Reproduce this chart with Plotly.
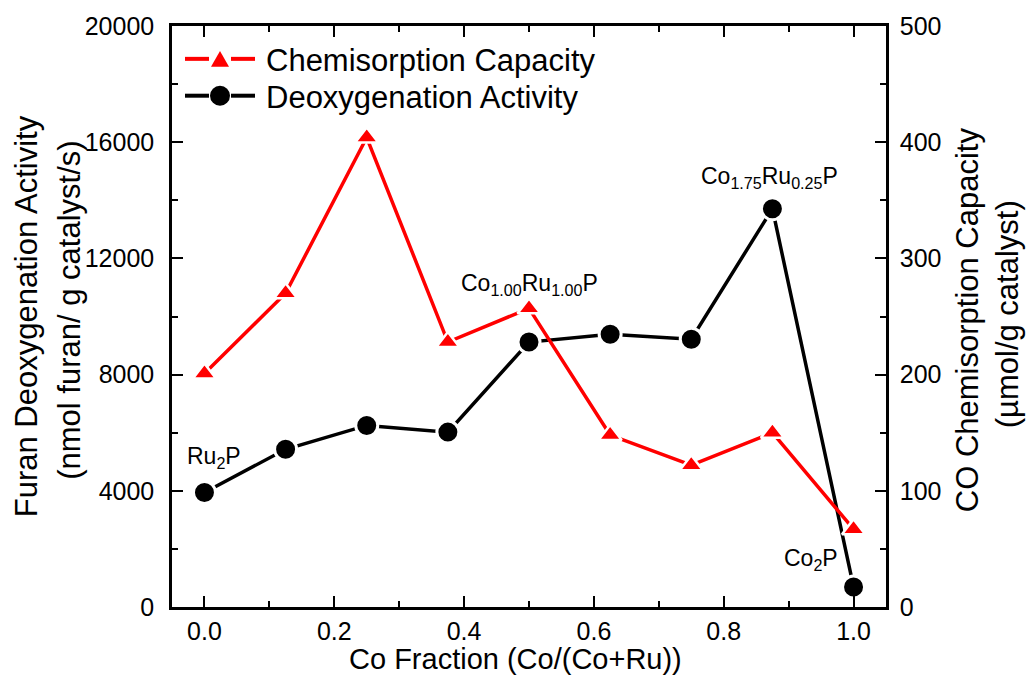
import plotly.graph_objects as go

# Measured data: Co fraction across the Ru2P -> Co2P series
co_fraction = [0.0, 0.125, 0.25, 0.375, 0.5, 0.625, 0.75, 0.875, 1.0]
deoxygenation_activity = [3940, 5430, 6250, 6020, 9120, 9390, 9220, 13710, 690]   # nmol furan / g cat / s
chemisorption_capacity = [201, 270, 404, 228, 257, 148, 122, 150, 67]             # umol CO / g cat

x_tick_values = [0.0, 0.2, 0.4, 0.6, 0.8, 1.0]
left_tick_values = [0, 4000, 8000, 12000, 16000, 20000]
right_tick_values = [0, 100, 200, 300, 400, 500]

phase_labels = ["Ru<sub>2</sub>P", "Co<sub>1.00</sub>Ru<sub>1.00</sub>P",
                "Co<sub>1.75</sub>Ru<sub>0.25</sub>P", "Co<sub>2</sub>P"]

# ---- layout geometry (pixels) ----
W, H = 1028, 678
PL, PR, PT, PB = 172, 886, 24, 607.5          # plot-area edges
FONT = "Arial, 'Liberation Sans', sans-serif"
RED, BLACK = "#ff0000", "#000000"


def px_x(px):
    return (px - PL) / (PR - PL)


def px_y(py):
    return (PB - py) / (PB - PT)


fig = go.Figure()

fig.add_trace(go.Scatter(
    x=co_fraction, y=deoxygenation_activity, mode="lines+markers",
    name="Deoxygenation Activity", yaxis="y", showlegend=False,
    line=dict(color=BLACK, width=3.5),
    marker=dict(symbol="circle", size=22, color=BLACK,
                line=dict(color="white", width=3)),
))
fig.add_trace(go.Scatter(
    x=co_fraction, y=chemisorption_capacity, mode="lines+markers",
    name="Chemisorption Capacity", yaxis="y2", showlegend=False,
    line=dict(color=RED, width=3.5),
    marker=dict(symbol="triangle-up", size=20, color=RED,
                line=dict(color="white", width=2.5)),
))

axis_common = dict(
    showline=True, linecolor="black", linewidth=2.5,
    ticks="inside", ticklen=11, tickwidth=2, tickcolor="black",
    showgrid=False, zeroline=False,
    tickfont=dict(family=FONT, size=25, color="black"),
)

fig.update_layout(
    width=W, height=H,
    margin=dict(l=PL, r=W - PR, t=PT, b=H - PB),
    paper_bgcolor="white", plot_bgcolor="white",
    font=dict(family=FONT, color="black"),
    xaxis=dict(
        range=[-0.05, 1.05], tickvals=x_tick_values, tickformat=".1f",
        mirror="ticks", ticklabelstandoff=0,
        minor=dict(dtick=0.1, tick0=0, ticks="inside", ticklen=6,
                   tickwidth=2, tickcolor="black"),
        **axis_common,
    ),
    yaxis=dict(
        range=[0, 20000], tickvals=left_tick_values, tickformat="d",
        ticklabelstandoff=10,
        minor=dict(dtick=2000, tick0=0, ticks="inside", ticklen=6,
                   tickwidth=2, tickcolor="black"),
        **axis_common,
    ),
    yaxis2=dict(
        range=[0, 500], tickvals=right_tick_values, tickformat="d",
        overlaying="y", side="right", ticklabelstandoff=6,
        minor=dict(dtick=50, tick0=0, ticks="inside", ticklen=6,
                   tickwidth=2, tickcolor="black"),
        **axis_common,
    ),
    showlegend=False,
)

# ---- axis titles ----
titles = [
    ("Furan Deoxygenation Activity", 26, 315.5),
    ("(nmol furan/ g catalyst/s)", 70, 310),
    ("CO Chemisorption Capacity", 967, 319.5),
    ("(\u00b5mol/g catalyst)", 1007, 313.5),
]
for text, tx, ty in titles:
    fig.add_annotation(
        text=text, xref="paper", yref="paper", x=px_x(tx), y=px_y(ty),
        xanchor="center", yanchor="middle", textangle=-90, showarrow=False,
        font=dict(family=FONT, size=31, color="black"),
    )
fig.add_annotation(
    text="Co Fraction (Co/(Co+Ru))", xref="paper", yref="paper",
    x=px_x(515), y=px_y(678), xanchor="center", yanchor="bottom",
    showarrow=False,
    font=dict(family=FONT, size=29, color="black"),
)

# ---- phase labels next to their points ----
label_pos = [(0.014, 5150), (0.5015, 11100), (0.871, 14780), (0.935, 1650)]
for text, (lx, ly) in zip(phase_labels, label_pos):
    fig.add_annotation(
        text=text, xref="x", yref="y", x=lx, y=ly,
        xanchor="center", yanchor="middle", showarrow=False,
        font=dict(family=FONT, size=23, color="black"),
    )

# ---- legend (line - symbol - line, then label) ----
legend_rows = [
    ("Chemisorption Capacity", RED, "triangle", 57),
    ("Deoxygenation Activity", BLACK, "circle", 94),
]
for text, color, sym, ry in legend_rows:
    for x0, x1 in [(185, 209), (231, 255)]:
        fig.add_shape(type="line", xref="paper", yref="paper",
                      x0=px_x(x0), x1=px_x(x1), y0=px_y(ry), y1=px_y(ry),
                      line=dict(color=color, width=4))
    cx = 220
    if sym == "triangle":
        pts = [(cx - 9, ry + 8), (cx + 9, ry + 8), (cx, ry - 8)]
        path = "M " + " L ".join(f"{px_x(a):.5f},{px_y(b):.5f}" for a, b in pts) + " Z"
        fig.add_shape(type="path", xref="paper", yref="paper", path=path,
                      fillcolor=color, line=dict(width=0))
    else:
        fig.add_shape(type="circle", xref="paper", yref="paper",
                      x0=px_x(cx - 10), x1=px_x(cx + 10),
                      y0=px_y(ry + 10), y1=px_y(ry - 10),
                      fillcolor=color, line=dict(width=0))
    fig.add_annotation(
        text=text, xref="paper", yref="paper", x=px_x(264), y=px_y(ry + 2),
        xanchor="left", yanchor="middle", showarrow=False,
        font=dict(family=FONT, size=31, color="black"),
    )

fig.write_html("out.html")
